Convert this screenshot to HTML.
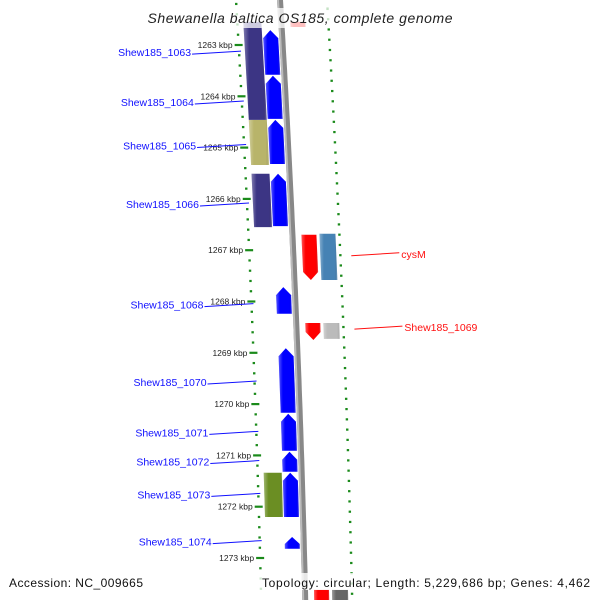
<!DOCTYPE html>
<html><head><meta charset="utf-8"><style>
html,body{margin:0;padding:0;background:#fff}
svg{display:block;font-family:"Liberation Sans",sans-serif}
</style></head><body>
<svg id="map" width="600" height="600" viewBox="0 0 600 600" xmlns="http://www.w3.org/2000/svg">
<defs>
<linearGradient id="gs" x1="0" x2="1"><stop offset="0" stop-color="#fff" stop-opacity="0.35"/><stop offset="0.25" stop-color="#fff" stop-opacity="0"/><stop offset="0.85" stop-color="#000" stop-opacity="0"/><stop offset="1" stop-color="#fff" stop-opacity="0.3"/></linearGradient>
<linearGradient id="bb" x1="0" x2="1"><stop offset="0" stop-color="#bbb"/><stop offset="0.5" stop-color="#777"/><stop offset="1" stop-color="#aaa"/></linearGradient>
</defs>
<g id="dots"></g>
<g id="back"></g>
<g id="genes"></g>
<g id="ticks"></g>
<g id="labels"></g>
<rect x="140" y="8" width="320" height="20" fill="#fff" fill-opacity="0.75"/>
<text x="300" y="23" text-anchor="middle" font-size="14" font-style="italic" fill="#222" textLength="305">Shewanella baltica OS185, complete genome</text>
<rect x="255" y="573" width="340" height="17" fill="#fff" fill-opacity="0.8"/>
<text x="9" y="587" font-size="12" fill="#111" textLength="134">Accession: NC_009665</text>
<text x="262" y="587" font-size="12" fill="#111" textLength="328">Topology: circular; Length: 5,229,686 bp; Genes: 4,462</text>
</svg>
<script>
const tickKbp=[1263,1264,1265,1266,1267,1268,1269,1270,1271,1272,1273];
const geneStart=[1262.55,1262.71,1263.60,1264.46,1264.46,1265.51,1265.51,1262.55,1266.70,1266.68,1267.72,1268.42,1268.42,1268.91,1270.19,1270.93,1271.34,1271.34,1272.59,1273.62,1273.62];
const geneEnd=[1262.65,1263.58,1264.44,1265.34,1265.32,1266.55,1266.53,1264.46,1267.58,1267.58,1268.24,1268.75,1268.73,1270.17,1270.91,1271.32,1272.20,1272.20,1272.82,1273.9,1273.9];
const geneTrack=[1,-1,-1,-2,-1,-2,-1,-2,1,2,-1,1,2,-1,-1,-1,-2,-1,-1,1,2];
const geneColor=["#ff0000","#0000ff","#0000ff","#b8b46a","#0000ff","#3c3584","#0000ff","#3c3584","#ff0000","#4682b4","#0000ff","#ff0000","#bbbbbb","#0000ff","#0000ff","#0000ff","#6b8e23","#0000ff","#0000ff","#ff0000","#666666"];
const geneArrow=[0,1,1,0,1,0,1,0,-1,0,1,-1,0,1,1,1,0,1,1,0,0];
const labelNames=["Shew185_1063","Shew185_1064","Shew185_1065","Shew185_1066","Shew185_1068","Shew185_1070","Shew185_1071","Shew185_1072","Shew185_1073","Shew185_1074","cysM","Shew185_1069"];
const labelKbp=[1263.14,1264.11,1264.96,1266.10,1268.06,1269.57,1270.55,1271.12,1271.76,1272.68,1267.07,1268.50];
const labelSide=[-1,-1,-1,-1,-1,-1,-1,-1,-1,-1,1,1];

const NS="http://www.w3.org/2000/svg";
function Y(k){return 45+(k-1263)*51.3;}
function BX(y){return 280+0.06*y-0.00003*y*y;}
function mk(tag,attrs,parent){const e=document.createElementNS(NS,tag);for(const a in attrs)e.setAttribute(a,attrs[a]);parent.appendChild(e);return e;}
const dots=document.getElementById('dots'),back=document.getElementById('back'),genes=document.getElementById('genes'),ticks=document.getElementById('ticks'),labels=document.getElementById('labels');

// backbone
let d="";for(let y=0;y<=600;y+=10){d+=(y?"L":"M")+BX(y).toFixed(1)+" "+y;}
const bp=mk('path',{d:d,stroke:'#888',"stroke-width":6,fill:'none'},back);


const bh=mk('path',{d:d,stroke:'#bbb',"stroke-width":2,fill:'none',transform:'translate(-2,0)'},back);



// ruler dots
for(let k=1262.2;k<=1273.8;k+=0.2){
  const y=Y(k);
  const isL=Math.abs(k-Math.round(k))<0.01;
  const xl=BX(y)-44;
  const l=mk('line',{x1:xl-(isL?4:1.2),x2:xl+(isL?4:1.2),y1:y,y2:y+(isL?0:0),stroke:'#1a8a1a',"stroke-width":2.2},dots);
  
  
  const fr=((k-1263-0.86)%1+1)%1;
  const isR=fr<0.05||fr>0.95;
  const xr=BX(y+5)+47;
  const r=mk('line',{x1:xr-(isR?4:1.2),x2:xr+(isR?4:1.2),y1:y+5,y2:y+5,stroke:'#1a8a1a',"stroke-width":2.2},dots);
  
  
}

// ticks labels
tickKbp.forEach(k=>{
  const y=Y(k);
  const t=mk('text',{x:BX(y)-50,y:y+3,"text-anchor":"end","font-size":8.5,fill:'#222'},ticks);
  t.textContent=k+" kbp";
  
  
});

// genes
const offs={"-2":[-38,-20],"-1":[-19,-4],"1":[9,24],"2":[27,43]};
geneStart.forEach((s,i)=>{
  const y1=Y(s),y2=Y(geneEnd[i]);
  const o=offs[geneTrack[i]];
  const c=(y1+y2)/2,bx=BX(c);
  const x1=bx+o[0],x2=bx+o[1],h=Math.min(8,(y2-y1)*0.6);
  let pts;
  if(geneArrow[i]===1)pts=[[x1,y1+h],[(x1+x2)/2,y1],[x2,y1+h],[x2,y2],[x1,y2]];
  else if(geneArrow[i]===-1)pts=[[x1,y1],[x2,y1],[x2,y2-h],[(x1+x2)/2,y2],[x1,y2-h]];
  else pts=[[x1,y1],[x2,y1],[x2,y2],[x1,y2]];
  const sk=(y)=>(BX(y)-bx);
  const ps=pts.map(p=>(p[0]+sk(p[1])).toFixed(1)+","+p[1].toFixed(1)).join(" ");
  const g=mk('polygon',{points:ps,fill:geneColor[i]},genes);
  
  
  const gl=mk('polygon',{points:ps,fill:'url(#gs)'},genes);
  
  
});

// labels
labelNames.forEach((n,i)=>{
  const y=Y(labelKbp[i]);
  const side=labelSide[i];
  const col=side<0?'#1010ff':'#ff1010';
  let tx,lx1,lx2;
  if(side<0){lx2=BX(y)-42;tx=lx2-50;lx1=tx+1;}
  else{lx1=BX(y)+58;lx2=lx1+48;tx=lx2+2;}
  const ln=mk('line',{x1:lx1,y1:y+2,x2:lx2,y2:y-1,stroke:col,"stroke-width":1},labels);
  
  
  const t=mk('text',{x:tx,y:y+4,"text-anchor":side<0?"end":"start","font-size":10.5,fill:col},labels);
  t.textContent=n;
  
  
});
</script>
</body></html>
